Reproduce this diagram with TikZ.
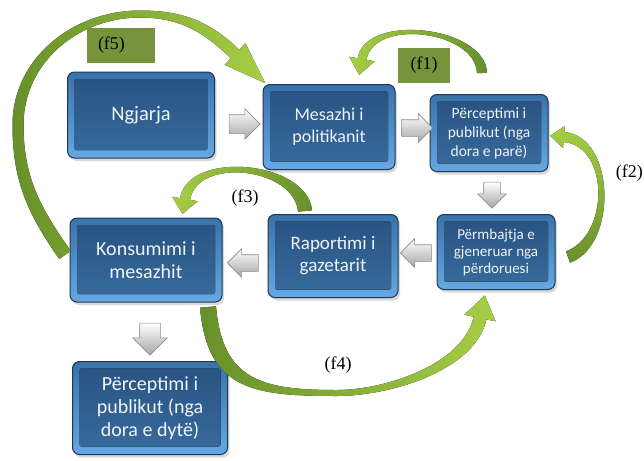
\documentclass[tikz,border=0pt]{standalone}
\usepackage{fontspec}
\setmainfont{Liberation Serif}
\newfontfamily\panelfont{Carlito}
\usetikzlibrary{calc,shapes.arrows,shadows}

\definecolor{frameTop}{HTML}{3A72AA}
\definecolor{frameBot}{HTML}{66A8E2}
\definecolor{frameLine}{HTML}{1D3856}
\definecolor{faceTop}{HTML}{285280}
\definecolor{faceBot}{HTML}{386C9E}
\definecolor{greenDark}{HTML}{67902A}
\definecolor{greenLight}{HTML}{A6CE45}
\definecolor{tagGreen}{HTML}{77933C}
\definecolor{panelText}{HTML}{EEF3F8}

% left/right edge points of a band at a station
\newcommand\bandends[4]{% name, point, travel angle, band width
  \pgfmathsetmacro\bandL{#3+90}%
  \pgfmathsetmacro\bandR{#3-90}%
  \pgfmathsetmacro\bandW{#4/2}%
  \coordinate (#1-l) at ($(#2)+(\bandL:\bandW pt)$);%
  \coordinate (#1-r) at ($(#2)+(\bandR:\bandW pt)$);}
% wings and tip of an arrow head standing on a base point
\newcommand\headends[4]{% base point, direction, half width, length
  \pgfmathsetmacro\bandL{#2+90}%
  \pgfmathsetmacro\bandR{#2-90}%
  \coordinate (#1-wl) at ($(#1)+(\bandL:#3pt)$);%
  \coordinate (#1-wr) at ($(#1)+(\bandR:#3pt)$);%
  \coordinate (#1-tip) at ($(#1)+(#2:#4pt)$);}
% curved band arrow, one bend
\newcommand\curvedarrow[7]{% tail, tail angle, base, base angle, looseness left, looseness right, fill options
  \pgfmathsetmacro\backB{#4+180}%
  \fill[#7] (#1-l) to[out=#2,in=\backB,looseness=#5] (#3-l) -- (#3-wl) -- (#3-tip)
    -- (#3-wr) -- (#3-r) to[out=\backB,in=#2,looseness=#6] (#1-r) -- cycle;}
% curved band arrow through one intermediate station
\newcommand\curvedarrowvia[9]{% tail, tail angle, via, via angle, base, base angle, looseness 1, looseness 2, fill options
  \pgfmathsetmacro\backV{#4+180}%
  \pgfmathsetmacro\backB{#6+180}%
  \fill[#9] (#1-l) to[out=#2,in=\backV,looseness=#7] (#3-l) to[out=#4,in=\backB,looseness=#8] (#5-l)
    -- (#5-wl) -- (#5-tip) -- (#5-wr) -- (#5-r)
    to[out=\backB,in=#4,looseness=#8] (#3-r) to[out=\backV,in=#2,looseness=#7] (#1-r) -- cycle;}

\tikzset{
  panel/.style={rounded corners=7pt, draw=frameLine, line width=1pt,
    top color=frameTop, bottom color=frameBot, align=center, text=panelText,
    inner sep=0pt,
    drop shadow={shadow xshift=2pt, shadow yshift=-3pt, opacity=0.3},
    path picture={\fill[top color=faceTop, bottom color=faceBot, rounded corners=2pt]
      ([shift={(7pt,-7pt)}]path picture bounding box.north west) rectangle
      ([shift={(-7pt,8pt)}]path picture bounding box.south east);}},
  blockarrow/.style={single arrow, draw=black!45, line width=0.6pt,
    top color=white, bottom color=black!35, inner sep=9pt,
    minimum height=31pt, single arrow head extend=6pt,
    single arrow tip angle=90},
  tag/.style={fill=tagGreen, minimum height=35pt, inner sep=0pt,
    font=\fontsize{18}{20}\selectfont},
  flabel/.style={font=\fontsize{18}{20}\selectfont, inner sep=0pt},
  tailright/.style={left color=greenLight, right color=greenDark},
  tailleft/.style={left color=greenDark, right color=greenLight},
  tailbottom/.style={top color=greenLight, bottom color=greenDark},
}

\begin{document}
\begin{tikzpicture}[x=1pt,y=-1pt]
\fill[white] (0,0) rectangle (644,460);
\useasboundingbox (0,0) rectangle (644,460);

% stages of the flow
\node[panel, minimum width=147pt, minimum height=86pt, font=\panelfont\fontsize{20.5}{24}\selectfont]
  (ng) at (141,115) {Ngjarja};
\node[panel, minimum width=132pt, minimum height=85pt, font=\panelfont\fontsize{18}{22}\selectfont]
  (mp) at (329,127) {Mesazhi i\\politikanit};
\node[panel, minimum width=118pt, minimum height=77pt, font=\panelfont\fontsize{15.5}{19}\selectfont]
  (p1) at (489,133) {Përceptimi i\\publikut (nga\\dora e parë)};
\node[panel, minimum width=118pt, minimum height=75pt, font=\panelfont\fontsize{15}{17}\selectfont]
  (pu) at (496,252) {Përmbajtja e\\gjeneruar nga\\përdoruesi};
\node[panel, minimum width=130pt, minimum height=83pt, font=\panelfont\fontsize{19}{22}\selectfont]
  (rg) at (333,256) {Raportimi i\\gazetarit};
\node[panel, minimum width=152pt, minimum height=84pt, font=\panelfont\fontsize{20}{23}\selectfont]
  (km) at (146,260) {Konsumimi i\\mesazhit};
\node[panel, minimum width=155pt, minimum height=93pt, font=\panelfont\fontsize{20}{23}\selectfont]
  (p2) at (150,408) {Përceptimi i\\publikut (nga\\dora e dytë)};

% grey step arrows between the stages
\node[blockarrow] (g1) at (240,124) {};
\node[blockarrow, inner sep=8pt] (g2) at (413,128) {};
\node[blockarrow, shape border rotate=270, minimum height=26pt, inner sep=8pt] (g3) at (492,191) {};
\node[blockarrow, shape border rotate=180, inner sep=8pt] (g4) at (420,253) {};
\node[blockarrow, shape border rotate=180, inner sep=8pt] (g5) at (247,263) {};
\node[blockarrow, shape border rotate=270, minimum height=32pt, inner sep=10pt, single arrow head extend=7pt] (g6) at (150,334) {};

% feedback loops
% (f1): perception back to the politician
\coordinate (f1t) at (482,73);
\coordinate (f1b) at (362,59);
\bandends{f1t}{f1t}{92}{10}
\bandends{f1b}{f1b}{-100}{9}
\headends{f1b}{-100}{13}{16}
\curvedarrow{f1t}{92}{f1b}{-100}{0.98}{0.92}{tailright}

% (f2): user content back to perception
\coordinate (f2t) at (568,257);
\coordinate (f2b) at (564,137);
\bandends{f2t}{f2t}{20}{12}
\bandends{f2b}{f2b}{175}{10}
\headends{f2b}{175}{11}{14}
\curvedarrow{f2t}{20}{f2b}{175}{1.08}{1.0}{tailbottom}

% (f3): reporting back to consumption
\coordinate (f3t) at (305,211);
\coordinate (f3b) at (185,199);
\bandends{f3t}{f3t}{95}{14}
\bandends{f3b}{f3b}{-100}{10}
\headends{f3b}{-100}{13}{15}
\curvedarrow{f3t}{95}{f3b}{-100}{1.04}{0.96}{tailright}

% (f4): consumption on to user content
\coordinate (f4t) at (208,307);
\coordinate (f4m) at (337,393);
\coordinate (f4b) at (480,318);
\bandends{f4t}{f4t}{-85}{16}
\bandends{f4m}{f4m}{0}{6}
\bandends{f4b}{f4b}{78}{13}
\headends{f4b}{78}{16}{23}
\curvedarrowvia{f4t}{-85}{f4m}{0}{f4b}{78}{1.3}{0.8}{tailleft}

% (f5): consumption back to the politician
\coordinate (f5t) at (65,255);
\coordinate (f5m) at (18,125);
\coordinate (f5n) at (140,14);
\coordinate (f5b) at (235,54);
\bandends{f5t}{f5t}{125}{14}
\bandends{f5m}{f5m}{90}{11}
\bandends{f5n}{f5n}{0}{7}
\bandends{f5b}{f5b}{-44}{12}
\headends{f5b}{-44}{15}{42}
\fill[tailleft] (f5t-l) to[out=125,in=-90,looseness=1] (f5m-l) to[out=90,in=180,looseness=1] (f5n-l)
  to[out=0,in=136,looseness=1] (f5b-l) -- (f5b-wl) -- (f5b-tip) -- (f5b-wr) -- (f5b-r)
  to[out=136,in=0,looseness=1] (f5n-r) to[out=180,in=90,looseness=1] (f5m-r)
  to[out=-90,in=125,looseness=1] (f5t-r) -- cycle;

% loop labels
\node[tag, minimum width=52pt] (t1) at (424,65.5) {(f1)};
\node[tag, minimum width=68pt, text width=46pt, inner xsep=11pt, align=left] (t5) at (121,45.5) {(f5)};
\node[flabel, anchor=east] (l2) at (643,173) {(f2)};
\node[flabel] (l3) at (245,198) {(f3)};
\node[flabel] (l4) at (338,365) {(f4)};
\end{tikzpicture}
\end{document}
